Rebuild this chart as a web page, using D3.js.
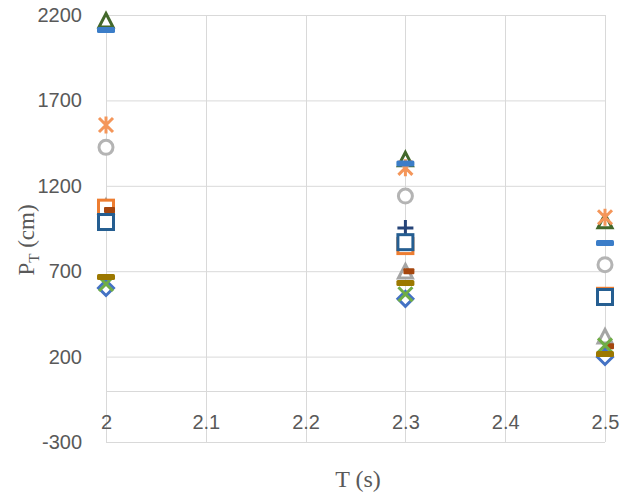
<!DOCTYPE html>
<html>
<head>
<meta charset="utf-8">
<script src="https://cdn.jsdelivr.net/npm/d3@7"></script>
<style>
  html, body { margin: 0; padding: 0; background: #fff; }
  svg { display: block; }
</style>
</head>
<body>
<svg id="chart" width="633" height="496"></svg>
<script>
// ---------------- data ----------------
const periods = [2, 2.3, 2.5];
const xTicks = [2, 2.1, 2.2, 2.3, 2.4, 2.5];
const yTicks = [-300, 200, 700, 1200, 1700, 2200];

const grayTriangle   = [1075, 695, 315];
const orangeSquare   = [1072, 847, 556];
const greenTriangle  = [2165, 1352, 990];
const orangeStar     = [1556, 1305, 1016];
const grayCircle     = [1425, 1140, 738];
const navyPlus       = [null, 953, null];
const blueDash       = [2112, 1330, 865];
const navySquare     = [988, 870, 549];
const rustDash       = [1058, 700, 260];
const blueDiamond    = [602, 538, 198];
const greenX         = [625, 565, 266];
const goldDash       = [666, 631, 215];

const series = [
  { name: "grayTriangle",  values: grayTriangle,  marker: "triangle", color: "#A5A5A5" },
  { name: "orangeSquare",  values: orangeSquare,  marker: "square",   color: "#ED7D31" },
  { name: "greenTriangle", values: greenTriangle, marker: "triangle", color: "#43682B" },
  { name: "orangeStar",    values: orangeStar,    marker: "star",     color: "#F4965A" },
  { name: "grayCircle",    values: grayCircle,    marker: "circle",   color: "#B4B4B4" },
  { name: "navyPlus",      values: navyPlus,      marker: "plus",     color: "#264478" },
  { name: "blueDash",      values: blueDash,      marker: "dash",     color: "#3B7DC8" },
  { name: "navySquare",    values: navySquare,    marker: "square",   color: "#255E91" },
  { name: "rustDash",      values: rustDash,      marker: "shortdash",color: "#A5460E" },
  { name: "blueDiamond",   values: blueDiamond,   marker: "diamond",  color: "#4472C4" },
  { name: "greenX",        values: greenX,        marker: "x",        color: "#70AD47" },
  { name: "goldDash",      values: goldDash,      marker: "dash",     color: "#9C7800" }
];

// ---------------- layout ----------------
const svg = d3.select("#chart");
const x = d3.scaleLinear().domain([2, 2.5]).range([106, 605]);
const y = d3.scaleLinear().domain([-300, 2200]).range([442, 15]);
const gridColor = "#D9D9D9";
const textColor = "#595959";
const labelFont = "'Liberation Sans', Arial, sans-serif";
const titleFont = "'Liberation Serif', 'Times New Roman', serif";

// horizontal gridlines
svg.append("g").selectAll("line").data(yTicks).join("line")
  .attr("x1", x(2)).attr("x2", x(2.5))
  .attr("y1", d => y(d) + 0.5).attr("y2", d => y(d) + 0.5)
  .attr("stroke", gridColor).attr("stroke-width", 1);

// vertical gridlines
svg.append("g").selectAll("line").data(xTicks).join("line")
  .attr("x1", d => Math.round(x(d)) + 0.5).attr("x2", d => Math.round(x(d)) + 0.5)
  .attr("y1", y(2200)).attr("y2", y(-300))
  .attr("stroke", gridColor).attr("stroke-width", 1);

// x axis line at 0
svg.append("line")
  .attr("x1", x(2)).attr("x2", x(2.5))
  .attr("y1", Math.round(y(0)) + 0.5).attr("y2", Math.round(y(0)) + 0.5)
  .attr("stroke", gridColor).attr("stroke-width", 1);

// y axis labels
const yAxis = svg.append("g")
  .attr("transform", `translate(${x(2)},0)`)
  .call(d3.axisLeft(y).tickValues(yTicks).tickSize(0).tickPadding(24).tickFormat(d => String(d)));
yAxis.select(".domain").remove();
yAxis.selectAll("text").attr("fill", textColor).style("font-family", labelFont).style("font-size", "20px");

// x axis labels (attached to the axis at 0)
const xAxis = svg.append("g")
  .attr("transform", `translate(0,${y(0)})`)
  .call(d3.axisBottom(x).tickValues(xTicks).tickSize(0).tickPadding(24).tickFormat(d => String(d)));
xAxis.select(".domain").remove();
xAxis.selectAll("text").attr("fill", textColor).style("font-family", labelFont).style("font-size", "20px");

// axis titles
svg.append("text")
  .attr("x", 358).attr("y", 487)
  .attr("text-anchor", "middle")
  .attr("fill", textColor)
  .style("font-family", titleFont).style("font-size", "24px")
  .text("T (s)");

const yt = svg.append("text")
  .attr("transform", "translate(34,240) rotate(-90)")
  .attr("text-anchor", "middle")
  .attr("fill", textColor)
  .style("font-family", titleFont).style("font-size", "23px");
yt.append("tspan").text("P");
yt.append("tspan").attr("dy", 5).style("font-size", "15px").text("T");
yt.append("tspan").attr("dy", -5).text(" (cm)");

// ---------------- markers ----------------
const sw = 3;
function drawMarker(g, type, color) {
  switch (type) {
    case "square":
      g.append("rect").attr("x", -7.5).attr("y", -7.5).attr("width", 15).attr("height", 15)
        .attr("fill", "#fff").attr("stroke", color).attr("stroke-width", sw);
      break;
    case "circle":
      g.append("circle").attr("r", 7).attr("fill", "#fff").attr("stroke", color).attr("stroke-width", sw);
      break;
    case "triangle":
      g.append("path").attr("d", "M0,-7.5L7,6L-7,6Z")
        .attr("fill", "#fff").attr("stroke", color).attr("stroke-width", sw).attr("stroke-linejoin", "miter");
      break;
    case "diamond":
      g.append("path").attr("d", "M0,-7.5L7.5,0L0,7.5L-7.5,0Z")
        .attr("fill", "#fff").attr("stroke", color).attr("stroke-width", sw);
      break;
    case "x":
      g.append("path").attr("d", "M-7,-7L7,7M7,-7L-7,7")
        .attr("fill", "none").attr("stroke", color).attr("stroke-width", sw);
      break;
    case "plus":
      g.append("path").attr("d", "M0,-8L0,8M-8,0L8,0")
        .attr("fill", "none").attr("stroke", color).attr("stroke-width", sw);
      break;
    case "star":
      g.append("path").attr("d", "M-7,-7L7,7M7,-7L-7,7M0,-8.5L0,8.5")
        .attr("fill", "none").attr("stroke", color).attr("stroke-width", sw);
      break;
    case "dash":
      g.append("rect").attr("x", -9).attr("y", -3).attr("width", 18).attr("height", 6)
        .attr("rx", 1.5).attr("fill", color);
      break;
    case "shortdash":
      g.append("rect").attr("x", -2).attr("y", -3).attr("width", 11).attr("height", 6)
        .attr("rx", 1).attr("fill", color);
      break;
  }
}

series.forEach(s => {
  const pts = periods.map((p, i) => ({ p, v: s.values[i] })).filter(d => d.v !== null);
  const g = svg.append("g").attr("class", "series " + s.name);
  pts.forEach(d => {
    const mg = g.append("g").attr("transform", `translate(${x(d.p)},${y(d.v)})`);
    drawMarker(mg, s.marker, s.color);
  });
});
</script>
</body>
</html>
